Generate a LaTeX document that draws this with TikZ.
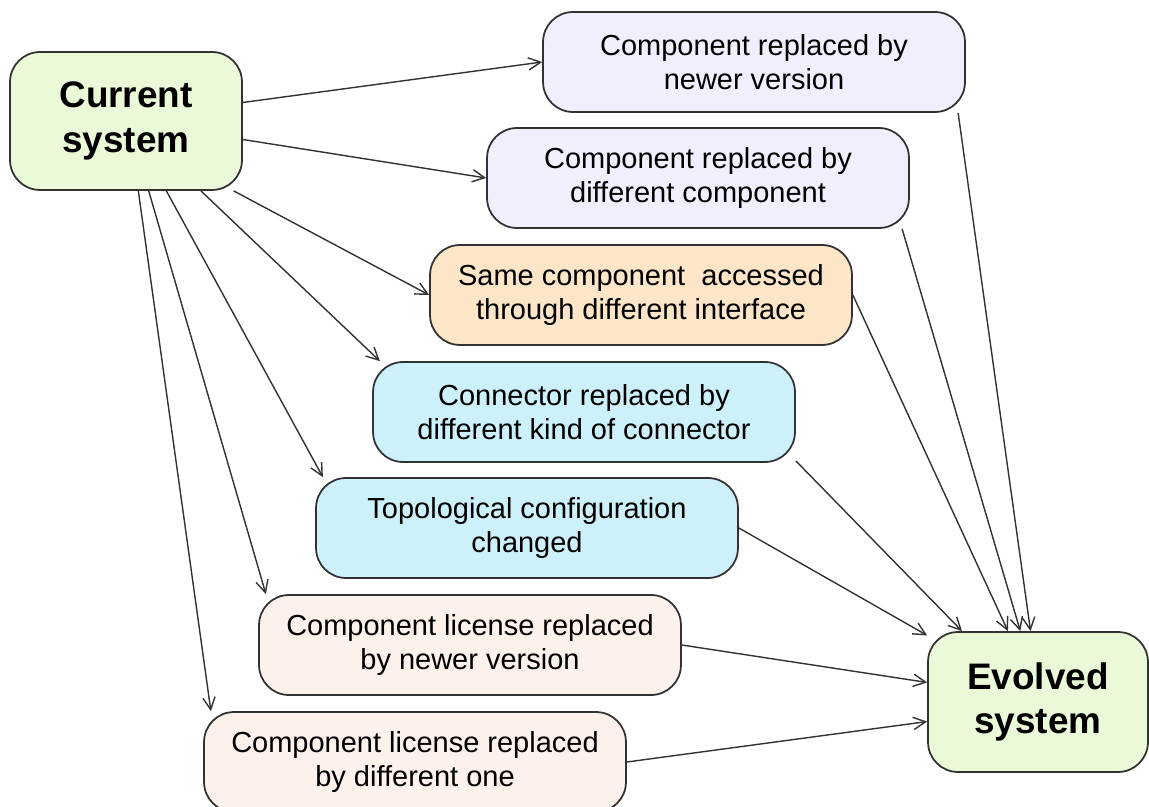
\documentclass[tikz,border=0pt]{standalone}
\usepackage{fontspec}
\setmainfont{Liberation Sans}
\usepackage{xcolor}
\usepackage{tikz}
\usetikzlibrary{arrows.meta}
\definecolor{sysgreen}{RGB}{234,250,217}
\definecolor{lavender}{RGB}{241,239,253}
\definecolor{peach}{RGB}{253,229,200}
\definecolor{skyblue}{RGB}{205,241,251}
\definecolor{blush}{RGB}{253,241,235}
\definecolor{edgegray}{RGB}{50,50,50}

\begin{document}
\begin{tikzpicture}[x=0.02cm, y=-0.02cm,
  sysbox/.style={draw=edgegray, line width=1pt, rounded corners=0.6cm, fill=sysgreen,
                 align=center, font=\fontsize{21}{25.5}\selectfont\bfseries},
  change/.style={draw=edgegray, line width=1pt, rounded corners=0.6cm, minimum width=8.44cm,
                 minimum height=2cm, align=center, font=\fontsize{16.5}{19.3}\selectfont},
  arr/.style={-{Straight Barb[length=7pt,width=7pt]}, line width=0.8pt, edgegray}
]
  \useasboundingbox (0,0) rectangle (1149,807);
  \node[sysbox, minimum width=4.64cm, minimum height=2.76cm] (cur) at (126,121) {Current\\system};
  \node[sysbox, minimum width=4.4cm, minimum height=2.8cm] (evo) at (1038,702) {Evolved\\system};

  \node[change, fill=lavender] (newver) at (754,62) {Component replaced by\\newer version};
  \node[change, fill=lavender] (diffcomp) at (698,178) {Component replaced by\\different component};
  \node[change, fill=peach] (iface) at (641,295) {Same component\ \ accessed\\through different interface};
  \node[change, fill=skyblue] (conn) at (584,412) {Connector replaced by\\different kind of connector};
  \node[change, fill=skyblue] (topo) at (527,528) {Topological configuration\\changed};
  \node[change, fill=blush] (licver) at (470,645) {Component license replaced\\by newer version};
  \node[change, fill=blush] (licdiff) at (415,762) {Component license replaced\\by different one};

  % from the current system
  \draw[arr] (cur.9) -- (newver.west);
  \draw[arr] (cur.-9) -- (diffcomp.west);
  \draw[arr] (cur.-33) -- (iface.west);
  \draw[arr] (cur.-43) -- (conn.166);
  \draw[arr] (cur.-60) -- (topo.166);
  \draw[arr] (cur.-72) -- (licver.166);
  \draw[arr] (cur.-80) -- (licdiff.166);

  % into the evolved system
  \draw[arr] (newver.-14) -- (evo.96);
  \draw[arr] (diffcomp.-14) -- (evo.104);
  \draw[arr] (iface.east) -- (evo.113);
  \draw[arr] (conn.-13) -- (evo.137);
  \draw[arr] (topo.east) -- (evo.149);
  \draw[arr] (licver.east) -- (evo.170);
  \draw[arr] (licdiff.east) -- (evo.190);
\end{tikzpicture}
\end{document}
